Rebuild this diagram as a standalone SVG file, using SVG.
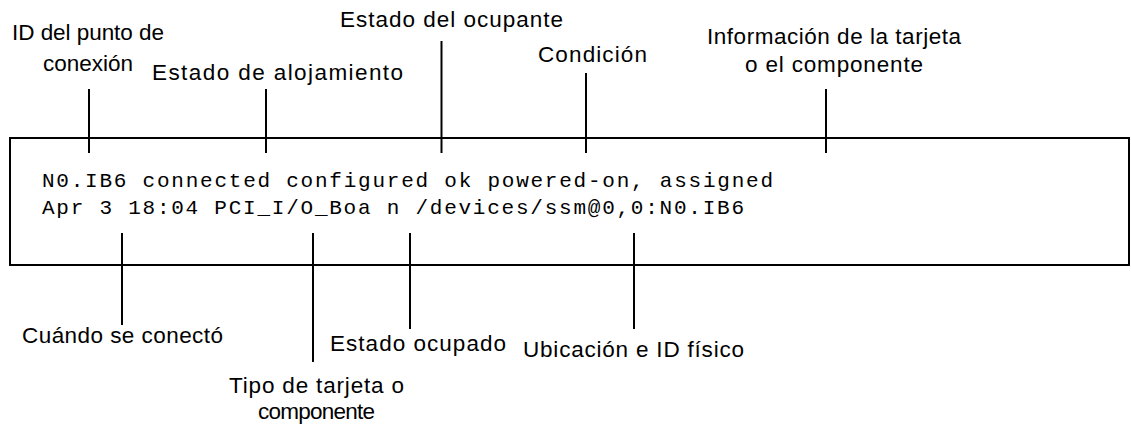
<svg xmlns="http://www.w3.org/2000/svg" width="1131" height="426" viewBox="0 0 1131 426">
  <style>
    .lbl { font-family: "Liberation Sans", Arial, Helvetica, sans-serif; font-size: 22.5px; fill: #000; }
    .mono { font-family: "Liberation Mono", "Courier New", monospace; font-size: 21px; fill: #000; }
    .conn line { stroke: #000; stroke-width: 2; fill: none; }
    .box { fill: #fff; stroke: #000; stroke-width: 2; }
  </style>
  <rect width="1131" height="426" fill="#fff"/>
  <g id="output-box">
    <rect class="box" x="10" y="138" width="1119" height="127"/>
    <text class="mono" x="42" y="187" textLength="731" lengthAdjust="spacing">N0.IB6 connected configured ok powered-on, assigned</text>
    <text class="mono" x="42" y="214" textLength="702" lengthAdjust="spacing">Apr 3 18:04 PCI_I/O_Boa n /devices/ssm@0,0:N0.IB6</text>
  </g>
  <g id="connectors" class="conn">
    <line x1="89" y1="89" x2="89" y2="153"/>
    <line x1="266" y1="89" x2="266" y2="153"/>
    <line x1="441.5" y1="41" x2="441.5" y2="153"/>
    <line x1="586" y1="73" x2="586" y2="153"/>
    <line x1="826" y1="89" x2="826" y2="153"/>
    <line x1="122" y1="233" x2="122" y2="325"/>
    <line x1="313" y1="233" x2="313" y2="362"/>
    <line x1="410" y1="233" x2="410" y2="329"/>
    <line x1="634" y1="233" x2="634" y2="329"/>
  </g>
  <g id="label-id-punto">
    <text class="lbl" x="12" y="40" textLength="152" lengthAdjust="spacing">ID del punto de</text>
    <text class="lbl" x="43" y="71" textLength="90" lengthAdjust="spacing">conexión</text>
  </g>
  <g id="label-alojamiento">
    <text class="lbl" x="152" y="80" textLength="251" lengthAdjust="spacing">Estado de alojamiento</text>
  </g>
  <g id="label-ocupante">
    <text class="lbl" x="340" y="27" textLength="223" lengthAdjust="spacing">Estado del ocupante</text>
  </g>
  <g id="label-condicion">
    <text class="lbl" x="538" y="62" textLength="109" lengthAdjust="spacing">Condición</text>
  </g>
  <g id="label-informacion">
    <text class="lbl" x="707" y="44" textLength="254" lengthAdjust="spacing">Información de la tarjeta</text>
    <text class="lbl" x="745" y="72" textLength="178" lengthAdjust="spacing">o el componente</text>
  </g>
  <g id="label-cuando">
    <text class="lbl" x="22" y="343" textLength="201" lengthAdjust="spacing">Cuándo se conectó</text>
  </g>
  <g id="label-tipo">
    <text class="lbl" x="229" y="393" textLength="175" lengthAdjust="spacing">Tipo de tarjeta o</text>
    <text class="lbl" x="258" y="419" textLength="117" lengthAdjust="spacing">componente</text>
  </g>
  <g id="label-ocupado">
    <text class="lbl" x="330" y="351" textLength="176" lengthAdjust="spacing">Estado ocupado</text>
  </g>
  <g id="label-ubicacion">
    <text class="lbl" x="523" y="357" textLength="221" lengthAdjust="spacing">Ubicación e ID físico</text>
  </g>
</svg>
